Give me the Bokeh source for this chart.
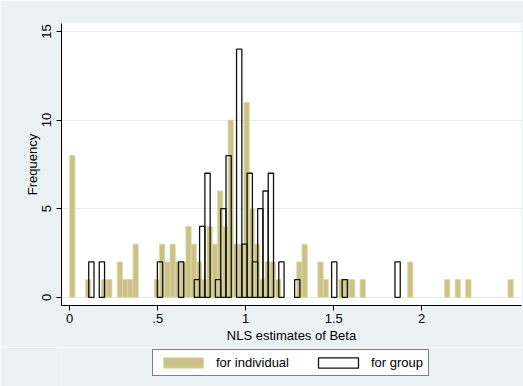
from bokeh.plotting import figure
from bokeh.layouts import column
from bokeh.models import ColumnDataSource, Range1d, FixedTicker, Legend, LegendItem
from bokeh.embed import file_html
from bokeh.resources import INLINE

# ---- data (frequency histograms, bin width .03) ----
bin_width = 0.03

ind_left = [0.00, 0.09, 0.18, 0.21, 0.27, 0.30, 0.33, 0.36,
            0.48, 0.51, 0.54, 0.57, 0.60, 0.63, 0.66, 0.69, 0.72, 0.75,
            0.78, 0.81, 0.84, 0.87, 0.90, 0.93, 0.96, 0.99, 1.02, 1.05,
            1.08, 1.11, 1.14, 1.17, 1.29, 1.32, 1.41, 1.44,
            1.53, 1.56, 1.59, 1.65, 1.92, 2.13, 2.19, 2.25, 2.49]
ind_count = [8, 1, 1, 1, 2, 1, 1, 3,
             1, 3, 2, 3, 2, 2, 4, 3, 2, 1,
             4, 3, 6, 4, 10, 3, 3, 11, 5, 3,
             1, 2, 2, 1, 2, 3, 2, 1,
             1, 1, 1, 1, 2, 1, 1, 1, 1]

grp_left = [0.108, 0.168, 0.498, 0.618, 0.708, 0.738, 0.768, 0.828,
            0.858, 0.888, 0.948, 0.978, 1.008, 1.038, 1.068, 1.098,
            1.128, 1.188, 1.278, 1.488, 1.548, 1.848]
grp_count = [2, 2, 2, 2, 1, 4, 7, 1,
             5, 8, 14, 3, 7, 2, 5, 6,
             7, 2, 1, 2, 1, 2]

x_ticks = [0, 0.5, 1, 1.5, 2]
x_tick_labels = ["0", ".5", "1", "1.5", "2"]
y_ticks = [0, 5, 10, 15]

series_labels = ["for individual", "for group"]
x_title = "NLS estimates of Beta"
y_title = "Frequency"

# ---- build ----
FONT = "Liberation Sans"
BG = "#EAF2F3"
IND_FILL = "#CBC386"
IND_LINE = "#DCD7AC"
GRP_LINE = "#111111"

ind_src = ColumnDataSource(dict(
    left=ind_left,
    right=[v + bin_width for v in ind_left],
    top=ind_count,
))
grp_src = ColumnDataSource(dict(
    left=grp_left,
    right=[v + bin_width for v in grp_left],
    top=grp_count,
))

MAIN_H = 347
p = figure(width=523, height=MAIN_H, output_backend="svg", toolbar_location=None,
           x_range=Range1d(-0.0466, 2.567), y_range=Range1d(-0.46, 15.45),
           min_border_left=61, min_border_right=2, min_border_top=23,
           min_border_bottom=MAIN_H - 305)

p.background_fill_color = "white"
p.border_fill_color = BG
p.outline_line_color = None

p.quad(left="left", right="right", bottom=0, top="top", source=ind_src,
       fill_color=IND_FILL, line_color=IND_LINE, line_width=0.8)
p.quad(left="left", right="right", bottom=0, top="top", source=grp_src,
       fill_color=None, line_color=GRP_LINE, line_width=1.3)

# axes
xa = p.xaxis[0]
xa.ticker = FixedTicker(ticks=x_ticks)
xa.major_label_overrides = {t: l for t, l in zip(x_ticks, x_tick_labels)}
xa.axis_label = x_title
ya = p.yaxis[0]
ya.ticker = FixedTicker(ticks=y_ticks)
ya.axis_label = y_title
ya.major_label_orientation = "vertical"

for ax in (xa, ya):
    ax.axis_line_color = "black"
    ax.axis_line_width = 1
    ax.major_tick_line_color = "black"
    ax.major_tick_out = 5
    ax.major_tick_in = 0
    ax.minor_tick_line_color = None
    ax.major_label_text_font = FONT
    ax.major_label_text_font_size = "13px"
    ax.major_label_text_color = "black"
    ax.axis_label_text_font = FONT
    ax.axis_label_text_font_size = "13px"
    ax.axis_label_text_font_style = "normal"
    ax.axis_label_text_color = "black"

xa.major_label_standoff = 3
xa.axis_label_standoff = 2
ya.major_label_standoff = 5
ya.axis_label_standoff = 0

p.xgrid.grid_line_color = None
p.ygrid.ticker = FixedTicker(ticks=y_ticks)
p.ygrid.grid_line_color = "#E3ECEE"
p.ygrid.grid_line_width = 1

# ---- legend strip below the plot (same background) ----
# The strip re-uses the histogram sources; its y range lies below the bars,
# so only the legend swatches are seen.
LEG_H = 386 - MAIN_H
LEG_BOX_H = 25
lg = figure(width=523, height=LEG_H, output_backend="svg", toolbar_location=None,
            x_axis_type=None, y_axis_type=None,
            x_range=Range1d(0, 1), y_range=Range1d(-2, -1),
            min_border_left=61, min_border_right=2, min_border_top=0,
            min_border_bottom=0)
lg.grid.visible = False
lg.background_fill_color = BG
lg.border_fill_color = BG
lg.outline_line_color = None
sw_ind = lg.quad(left="left", right="right", bottom=0, top="top", source=ind_src,
                 fill_color=IND_FILL, line_color=IND_LINE, line_width=0.8)
sw_grp = lg.quad(left="left", right="right", bottom=0, top="top", source=grp_src,
                 fill_color="white", line_color=GRP_LINE, line_width=1.3)

legend = Legend(items=[LegendItem(label=series_labels[0], renderers=[sw_ind]),
                       LegendItem(label=series_labels[1], renderers=[sw_grp])],
                orientation="horizontal",
                location=(91, LEG_H - 4 - LEG_BOX_H),
                glyph_width=50, glyph_height=13, label_height=15,
                label_standoff=8, spacing=24, padding=5, margin=0,
                border_line_color="black", border_line_width=1,
                background_fill_color="white", background_fill_alpha=1,
                label_text_font=FONT, label_text_font_size="13px",
                label_text_color="black")
lg.add_layout(legend, "center")

layout = column(p, lg, spacing=0)
open("out.html", "w").write(file_html(layout, INLINE))
